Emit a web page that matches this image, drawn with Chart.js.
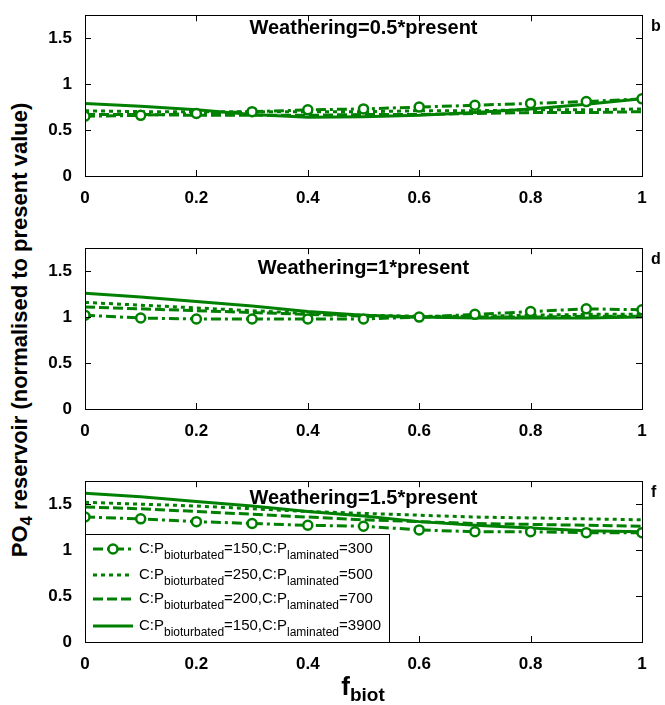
<!DOCTYPE html>
<html>
<head>
<meta charset="utf-8">
<script src="https://cdn.jsdelivr.net/npm/chart.js@4.4.0/dist/chart.umd.min.js"></script>
<style>
  body { margin: 0; background: #fff; width: 665px; height: 705px; position: relative; overflow: hidden;
         font-family: "Liberation Sans", Arial, sans-serif; }
  canvas { position: absolute; left: 0; }
  #ytitle { position: absolute; left: 22px; top: 330px; transform: translate(-50%, -50%) rotate(-90deg);
            white-space: nowrap; font-weight: bold; font-size: 22px; color: #000; }
  #ytitle sub { font-size: 17px; vertical-align: -5px; }
  #xtitle { position: absolute; left: 0; width: 726px; top: 671px; text-align: center;
            font-weight: bold; font-size: 26px; line-height: 30px; color: #000; }
  #xtitle sub { font-size: 19px; vertical-align: -6px; }
</style>
</head>
<body>
<div id="ytitle">PO<sub>4</sub> reservoir (normalised to present value)</div>
<canvas id="p1" width="665" height="206" style="top:0px"></canvas>
<canvas id="p2" width="665" height="206" style="top:233px"></canvas>
<canvas id="p3" width="665" height="206" style="top:466px"></canvas>
<div id="xtitle">f<sub>biot</sub></div>

<script>
// --- data ---
const fBiot = [0, 0.1, 0.2, 0.3, 0.4, 0.5, 0.6, 0.7, 0.8, 0.9, 1];
const xTicks = [0, 0.2, 0.4, 0.6, 0.8, 1];
const yTicks = [0, 0.5, 1, 1.5];

// legend: C:P ratios for each run
const cpBioturbated = [150, 250, 200, 150];
const cpLaminated = [300, 500, 700, 3900];

// weathering = 0.5 * present (panel b)
const w05_cp300  = [0.65, 0.66, 0.68, 0.70, 0.72, 0.73, 0.75, 0.77, 0.79, 0.81, 0.84];
const w05_cp500  = [0.71, 0.70, 0.70, 0.70, 0.70, 0.70, 0.71, 0.71, 0.72, 0.72, 0.73];
const w05_cp700  = [0.67, 0.67, 0.66, 0.66, 0.66, 0.67, 0.67, 0.68, 0.69, 0.69, 0.70];
const w05_cp3900 = [0.79, 0.76, 0.72, 0.67, 0.64, 0.645, 0.66, 0.69, 0.73, 0.78, 0.84];

// weathering = 1 * present (panel d)
const w1_cp300  = [1.02, 0.99, 0.98, 0.98, 0.98, 0.98, 1.00, 1.03, 1.06, 1.09, 1.08];
const w1_cp500  = [1.16, 1.13, 1.10, 1.07, 1.04, 1.02, 1.01, 1.01, 1.02, 1.03, 1.03];
const w1_cp700  = [1.11, 1.09, 1.07, 1.05, 1.03, 1.01, 1.00, 1.00, 1.00, 1.01, 1.01];
const w1_cp3900 = [1.26, 1.22, 1.17, 1.12, 1.06, 1.02, 1.00, 0.99, 0.99, 0.99, 1.00];

// weathering = 1.5 * present (panel f)
const w15_cp300  = [1.36, 1.34, 1.31, 1.29, 1.27, 1.26, 1.22, 1.20, 1.20, 1.19, 1.19];
const w15_cp500  = [1.52, 1.50, 1.48, 1.45, 1.42, 1.40, 1.38, 1.36, 1.35, 1.34, 1.33];
const w15_cp700  = [1.47, 1.45, 1.42, 1.39, 1.36, 1.33, 1.31, 1.29, 1.28, 1.27, 1.26];
const w15_cp3900 = [1.62, 1.58, 1.53, 1.48, 1.42, 1.37, 1.31, 1.27, 1.24, 1.21, 1.20];

const GREEN = '#008000';
const FONT = '"Liberation Sans", Arial, sans-serif';

// line styles in legend order: dash-dot + circles, dotted, dashed, solid
const styles = [
  { dash: [10, 4, 3, 4], marker: true },
  { dash: [4, 4], marker: false },
  { dash: [10, 4], marker: false },
  { dash: [], marker: false }
];

function makeDatasets(series) {
  return series.map((vals, i) => ({
    data: vals.map((v, k) => ({ x: fBiot[k], y: v })),
    borderColor: GREEN,
    borderWidth: 3,
    borderDash: styles[i].dash,
    borderCapStyle: 'butt',
    pointRadius: styles[i].marker ? 4.5 : 0,
    pointBorderWidth: 2.5,
    pointBorderColor: GREEN,
    pointBackgroundColor: '#fff',
    tension: 0,
    fill: false
  }));
}

// text with subscripts, parts = [[text, isSub], ...]
function drawSubText(ctx, parts, x, y) {
  parts.forEach(([t, sub]) => {
    ctx.font = sub ? '12px ' + FONT : '15px ' + FONT;
    ctx.fillText(t, x, sub ? y + 6 : y);
    x += ctx.measureText(t).width;
  });
}

function drawLegend(ctx, a) {
  const left = a.left, top = a.bottom - 108, w = 304, h = 108;
  ctx.fillStyle = '#fff';
  ctx.fillRect(left, top, w, h);
  ctx.strokeStyle = '#000';
  ctx.lineWidth = 1;
  ctx.setLineDash([]);
  ctx.strokeRect(left + 0.5, top + 0.5, w, h);
  const rows = [15, 41, 65, 92];
  rows.forEach((dy, i) => {
    const ly = top + dy;
    ctx.save();
    ctx.strokeStyle = GREEN;
    ctx.lineWidth = 3;
    ctx.lineCap = 'butt';
    ctx.setLineDash(styles[i].dash);
    ctx.beginPath();
    ctx.moveTo(left + 8, ly);
    ctx.lineTo(left + 48, ly);
    ctx.stroke();
    if (styles[i].marker) {
      ctx.setLineDash([]);
      ctx.lineWidth = 2.5;
      ctx.fillStyle = '#fff';
      ctx.beginPath();
      ctx.arc(left + 28, ly, 4.5, 0, Math.PI * 2);
      ctx.fill();
      ctx.stroke();
    }
    ctx.restore();
    ctx.fillStyle = '#000';
    ctx.textAlign = 'left';
    ctx.textBaseline = 'alphabetic';
    drawSubText(ctx, [
      ['C:P', false], ['bioturbated', true], ['=' + cpBioturbated[i] + ',C:P', false],
      ['laminated', true], ['=' + cpLaminated[i], false]
    ], left + 54, ly + 4);
  });
}

const framePlugin = {
  id: 'frame',
  afterDatasetsDraw(chart, args, opts) {
    const { ctx, chartArea: a, scales: { x, y } } = chart;
    ctx.save();
    ctx.strokeStyle = '#000';
    ctx.lineWidth = 1;
    ctx.setLineDash([]);
    ctx.beginPath();
    xTicks.forEach(v => {
      const px = Math.round(x.getPixelForValue(v)) + 0.5;
      ctx.moveTo(px, a.bottom); ctx.lineTo(px, a.bottom - 6);
      ctx.moveTo(px, a.top); ctx.lineTo(px, a.top + 6);
    });
    yTicks.forEach(v => {
      const py = Math.round(y.getPixelForValue(v)) + 0.5;
      ctx.moveTo(a.left, py); ctx.lineTo(a.left + 6, py);
      ctx.moveTo(a.right, py); ctx.lineTo(a.right - 6, py);
    });
    ctx.stroke();
    ctx.strokeRect(Math.round(a.left) + 0.5, Math.round(a.top) + 0.5,
                   Math.round(a.right - a.left), Math.round(a.bottom - a.top));

    ctx.fillStyle = '#000';
    ctx.textAlign = 'center';
    ctx.textBaseline = 'alphabetic';
    ctx.font = 'bold 20px ' + FONT;
    ctx.fillText(opts.title, (a.left + a.right) / 2, a.top + opts.titleY);

    ctx.textAlign = 'left';
    ctx.font = 'bold 16px ' + FONT;
    ctx.fillText(opts.letter, a.right + 9, a.top + 16);

    if (opts.legend) drawLegend(ctx, a);
    ctx.restore();
  }
};

function tickLabel(v) { return String(+Number(v).toFixed(2)); }

function makePanel(id, series, title, letter, titleY, legend) {
  new Chart(document.getElementById(id), {
    type: 'line',
    data: { datasets: makeDatasets(series) },
    options: {
      responsive: false,
      animation: false,
      layout: { padding: { left: 45, right: 23, top: 8, bottom: 0 } },
      plugins: {
        legend: { display: false },
        tooltip: { enabled: false },
        frame: { title, letter, titleY, legend }
      },
      scales: {
        x: {
          type: 'linear', min: 0, max: 1,
          afterBuildTicks: s => { s.ticks = xTicks.map(v => ({ value: v })); },
          afterFit: s => { s.height = 30; },
          grid: { display: false },
          border: { display: false },
          ticks: { color: '#000', font: { family: FONT, size: 17, weight: 'bold' },
                   padding: 4, maxRotation: 0, autoSkip: false, callback: tickLabel }
        },
        y: {
          type: 'linear', min: 0, max: 1.75,
          afterBuildTicks: s => { s.ticks = yTicks.map(v => ({ value: v })); },
          afterFit: s => { s.width = 40; },
          grid: { display: false },
          border: { display: false },
          ticks: { color: '#000', font: { family: FONT, size: 17, weight: 'bold' },
                   padding: 5, autoSkip: false, callback: tickLabel }
        }
      }
    },
    plugins: [framePlugin]
  });
}

makePanel('p1', [w05_cp300, w05_cp500, w05_cp700, w05_cp3900], 'Weathering=0.5*present', 'b', 19, false);
makePanel('p2', [w1_cp300, w1_cp500, w1_cp700, w1_cp3900], 'Weathering=1*present', 'd', 26, false);
makePanel('p3', [w15_cp300, w15_cp500, w15_cp700, w15_cp3900], 'Weathering=1.5*present', 'f', 23, true);
</script>
</body>
</html>
